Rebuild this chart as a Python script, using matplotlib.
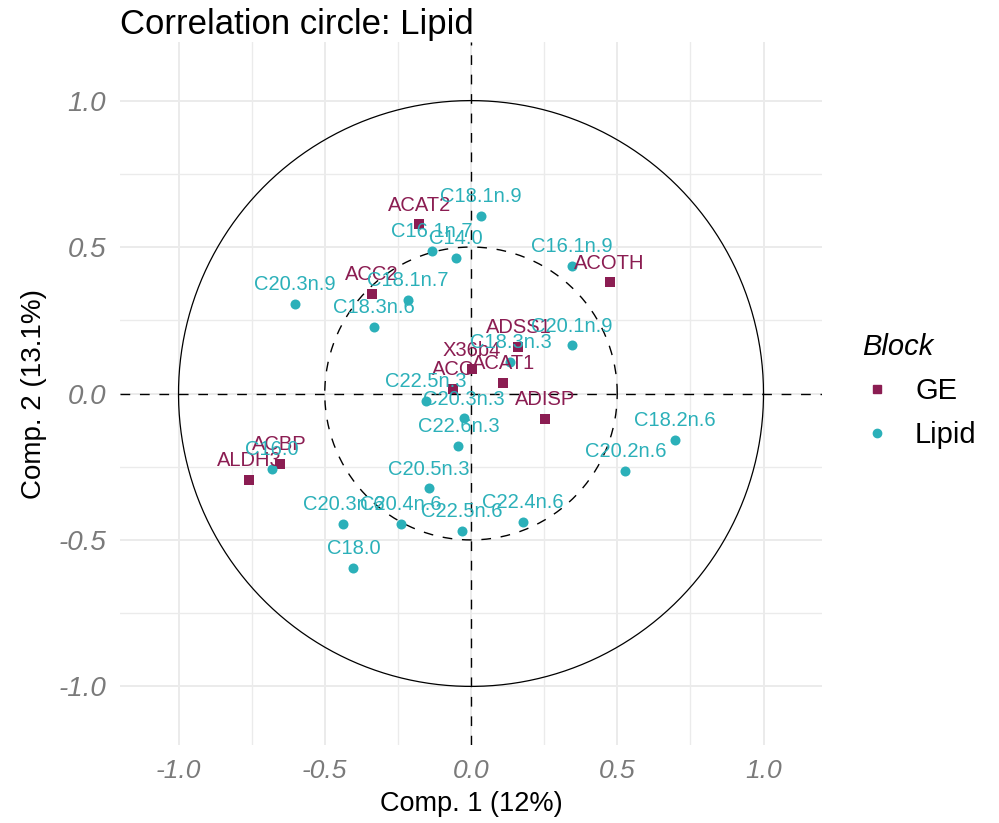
import numpy as np
import matplotlib
matplotlib.use("Agg")
import matplotlib.pyplot as plt
from matplotlib.lines import Line2D

# 数据：各变量在前两个成分上的相关系数
ge_names = ["ACAT2", "ACC2", "ACOTH", "ADSS1", "X36b4", "ACC", "ACAT1", "ADISP", "ACBP", "ALDH3"]
ge_x = [-0.177, -0.338, 0.474, 0.162, 0.004, -0.062, 0.110, 0.253, -0.654, -0.758]
ge_y = [0.577, 0.341, 0.379, 0.159, 0.082, 0.016, 0.036, -0.086, -0.242, -0.295]

lipid_names = ["C18.1n.9", "C16.1n.7", "C14.0", "C16.1n.9", "C20.3n.9", "C18.1n.7",
               "C18.3n.6", "C20.1n.9", "C18.3n.3", "C22.5n.3", "C20.3n.3", "C22.6n.3",
               "C18.2n.6", "C20.2n.6", "C16.0", "C20.5n.3", "C20.3n.6", "C20.4n.6",
               "C22.5n.6", "C22.4n.6", "C18.0"]
lipid_x = [0.034, -0.133, -0.051, 0.346, -0.601, -0.216, -0.333, 0.344, 0.135, -0.155,
           -0.024, -0.043, 0.696, 0.528, -0.682, -0.144, -0.436, -0.241, -0.032, 0.177,
           -0.402]
lipid_y = [0.606, 0.488, 0.463, 0.435, 0.306, 0.319, 0.226, 0.164, 0.108, -0.026,
           -0.085, -0.180, -0.160, -0.264, -0.258, -0.324, -0.444, -0.446, -0.468, -0.437,
           -0.595]

ticks = [-1.0, -0.5, 0.0, 0.5, 1.0]
tick_labels = ["-1.0", "-0.5", "0.0", "0.5", "1.0"]

GE_COL = "#8B1D52"
LIP_COL = "#2BB0B9"

plt.rcParams["font.family"] = ["Liberation Sans", "DejaVu Sans"]
plt.rcParams["axes.unicode_minus"] = False

fig = plt.figure(figsize=(9.99, 8.23), dpi=100)
ax = fig.add_axes([120 / 999, 1 - 745 / 823, 702 / 999, 703 / 823])

# 网格
for v in [-1.0, -0.5, 0.0, 0.5, 1.0]:
    ax.axvline(v, color="#EBEBEB", lw=1.4, zorder=0)
    ax.axhline(v, color="#EBEBEB", lw=1.4, zorder=0)
for v in [-0.75, -0.25, 0.25, 0.75]:
    ax.axvline(v, color="#EBEBEB", lw=1.0, zorder=0)
    ax.axhline(v, color="#EBEBEB", lw=1.0, zorder=0)

# 圆和零线
t = np.linspace(0, 2 * np.pi, 400)
ax.plot(np.cos(t), np.sin(t), color="black", lw=0.9, zorder=1)
ax.plot(0.5 * np.cos(t), 0.5 * np.sin(t), color="black", lw=1.0,
        linestyle=(0, (7, 7)), zorder=1)
ax.axvline(0, color="black", lw=1.0, linestyle=(0, (7, 7)), zorder=1)
ax.axhline(0, color="black", lw=1.0, linestyle=(0, (7, 7)), zorder=1)

# 点
ax.scatter(ge_x, ge_y, marker="s", s=48, color=GE_COL, linewidths=0, zorder=3)
ax.scatter(lipid_x, lipid_y, marker="o", s=52, color=LIP_COL, linewidths=0, zorder=3)

# 标签
for name, x, y in zip(ge_names, ge_x, ge_y):
    ax.annotate(name, (x, y), xytext=(0, 10), textcoords="offset points",
                ha="center", va="baseline", fontsize=14.5, color=GE_COL, zorder=4)
for name, x, y in zip(lipid_names, lipid_x, lipid_y):
    ax.annotate(name, (x, y), xytext=(0, 10), textcoords="offset points",
                ha="center", va="baseline", fontsize=14.5, color=LIP_COL, zorder=4)

ax.set_xlim(-1.2, 1.2)
ax.set_ylim(-1.2, 1.2)
ax.set_xticks(ticks)
ax.set_yticks(ticks)
ax.set_xticklabels(tick_labels, fontsize=19, style="italic", color="#7A7A7A")
ax.set_yticklabels(tick_labels, fontsize=20, style="italic", color="#7A7A7A")
ax.tick_params(length=0, pad=10)
for sp in ax.spines.values():
    sp.set_visible(False)

ax.set_xlabel("Comp. 1 (12%)", fontsize=19.5, labelpad=6)
ax.set_ylabel("Comp. 2 (13.1%)", fontsize=20, labelpad=8)
ax.set_title("Correlation circle: Lipid", loc="left", fontsize=25, pad=6)

handles = [Line2D([], [], marker="s", color=GE_COL, linestyle="", markersize=6),
           Line2D([], [], marker="o", color=LIP_COL, linestyle="", markersize=6)]
leg = ax.legend(handles, ["GE", "Lipid"], title="Block", loc="center left",
                bbox_to_anchor=(848 / 999, 1 - 391 / 823), bbox_transform=fig.transFigure,
                frameon=False, fontsize=21, title_fontsize=21, handlelength=1.0,
                handletextpad=0.8, labelspacing=0.55, alignment="left", borderpad=0)
leg.get_title().set_style("italic")

fig.savefig("out.png", dpi=100)
